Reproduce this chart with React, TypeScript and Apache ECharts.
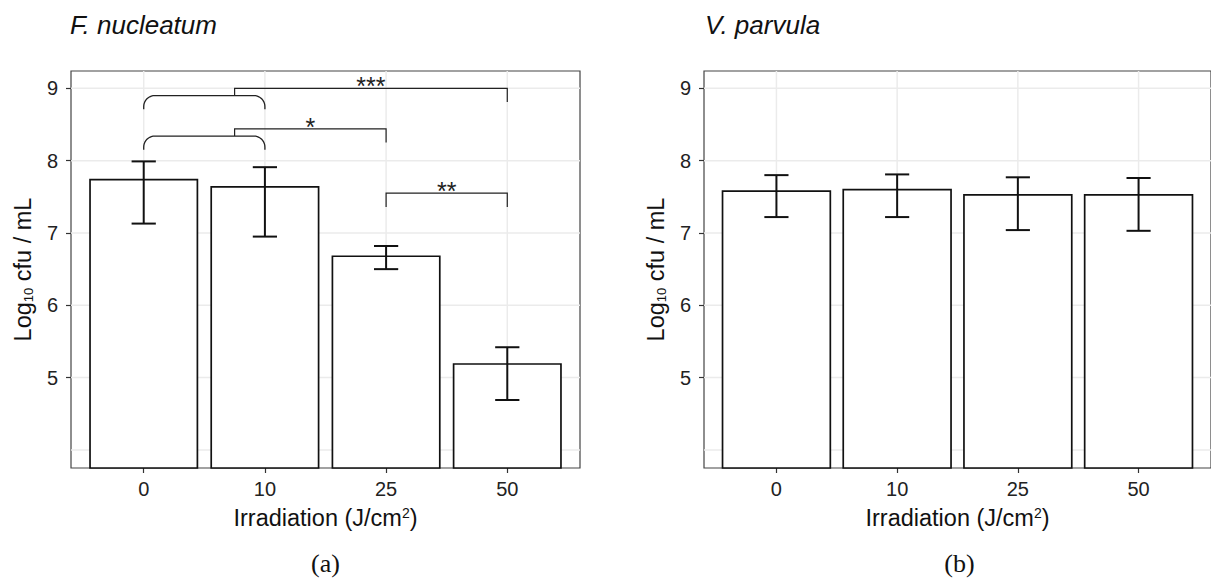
import React, { useEffect, useRef } from "react";
import * as echarts from "echarts";

// ---------- data ----------
const categories = ["0", "10", "25", "50"];
const categoryIndex = [0, 1, 2, 3];

// F. nucleatum (panel a)
const fnMeans = [7.75, 7.65, 6.69, 5.2];
const fnLower = [7.13, 6.95, 6.5, 4.69];
const fnUpper = [7.99, 7.91, 6.82, 5.42];

// V. parvula (panel b)
const vpMeans = [7.59, 7.61, 7.54, 7.54];
const vpLower = [7.22, 7.22, 7.04, 7.03];
const vpUpper = [7.8, 7.81, 7.77, 7.76];

const yTicks = [5, 6, 7, 8, 9];
const yGridValues = [4, 5, 6, 7, 8, 9];
const yMin = 3.75;
const yMax = 9.24;

// significance brackets on panel (a), x in category-index units
const bracketX1 = [0.75, 0.75, 2];
const bracketX2 = [3, 2, 3];
const bracketY = [9.0, 8.44, 7.55];
const bracketLeftEnd = [8.9, 8.34, 7.36];
const bracketRightEnd = [8.81, 8.25, 7.36];
const bracketLabels = ["***", "*", "**"];

// rounded "group" braces joining 0 and 10
const braceX1 = [0, 0];
const braceX2 = [1, 1];
const braceTop = [8.9, 8.34];
const braceBottom = [8.71, 8.15];

// ---------- layout ----------
const W = 1211;
const H = 579;
const FONT = "Liberation Sans, Arial, Helvetica, sans-serif";
const gridTop = 71;
const gridBottom = 111;
const leftGrid = { left: 71, right: 631 };
const rightGrid = { left: 704, right: -4 };
const leftWidth = W - leftGrid.left - leftGrid.right;
const rightWidth = W - rightGrid.left - rightGrid.right;

function gridlineRender(params: any, api: any) {
  const cs = params.coordSys;
  const flag = api.value(2);
  const style = { stroke: "#ebebeb", lineWidth: 1.5, fill: null };
  if (flag === 0) {
    const x = api.coord([api.value(0), yMin])[0];
    return { type: "line", shape: { x1: x, y1: cs.y, x2: x, y2: cs.y + cs.height }, style };
  }
  const y = api.coord([0, api.value(1)])[1];
  return { type: "line", shape: { x1: cs.x, y1: y, x2: cs.x + cs.width, y2: y }, style };
}

function errorBarRender(params: any, api: any) {
  const x = api.value(0);
  const pLo = api.coord([x, api.value(1)]);
  const pHi = api.coord([x, api.value(2)]);
  const half = api.size([0.1, 0])[0];
  const style = { stroke: "#111", lineWidth: 2, fill: null };
  return {
    type: "group",
    children: [
      { type: "line", shape: { x1: pLo[0], y1: pLo[1], x2: pHi[0], y2: pHi[1] }, style },
      { type: "line", shape: { x1: pLo[0] - half, y1: pLo[1], x2: pLo[0] + half, y2: pLo[1] }, style },
      { type: "line", shape: { x1: pHi[0] - half, y1: pHi[1], x2: pHi[0] + half, y2: pHi[1] }, style },
    ],
  };
}

function bracketRender(params: any, api: any) {
  const x1 = api.value(0);
  const x2 = api.value(1);
  const y = api.value(2);
  const pL = api.coord([x1, y]);
  const pR = api.coord([x2, y]);
  const pLe = api.coord([x1, api.value(3)]);
  const pRe = api.coord([x2, api.value(4)]);
  const style = { stroke: "#222", lineWidth: 1.2, fill: null };
  return {
    type: "group",
    children: [
      {
        type: "polyline",
        shape: { points: [[pLe[0], pLe[1]], [pL[0], pL[1]], [pR[0], pR[1]], [pRe[0], pRe[1]]] },
        style,
      },
      {
        type: "text",
        x: (pL[0] + pR[0]) / 2,
        y: pL[1] - 2,
        style: {
          text: bracketLabels[params.dataIndex],
          font: `25px ${FONT}`,
          fill: "#222",
          align: "center",
          verticalAlign: "middle",
        },
      },
    ],
  };
}

function braceRender(params: any, api: any) {
  const xL = api.coord([api.value(0), 0])[0];
  const xR = api.coord([api.value(1), 0])[0];
  const yT = api.coord([0, api.value(2)])[1];
  const yB = api.coord([0, api.value(3)])[1];
  const r = Math.min(11, yB - yT);
  const pts: number[][] = [[xL, yB]];
  const steps = 10;
  for (let i = 0; i <= steps; i++) {
    const t = Math.PI + (Math.PI / 2) * (i / steps);
    pts.push([xL + r + r * Math.cos(t), yT + r + r * Math.sin(t)]);
  }
  for (let i = 0; i <= steps; i++) {
    const t = 1.5 * Math.PI + (Math.PI / 2) * (i / steps);
    pts.push([xR - r + r * Math.cos(t), yT + r + r * Math.sin(t)]);
  }
  pts.push([xR, yB]);
  return {
    type: "polyline",
    shape: { points: pts },
    style: { stroke: "#222", lineWidth: 1.3, fill: null },
  };
}

function makeXAxis(gridIndex: number) {
  return {
    type: "value",
    gridIndex,
    min: -0.6,
    max: 3.6,
    name: "Irradiation (J/cm{p|2})",
    nameLocation: "middle",
    nameGap: 38,
    nameTextStyle: {
      fontSize: 23.5,
      color: "#111",
      fontFamily: FONT,
      rich: { p: { fontSize: 14, verticalAlign: "top", color: "#111", fontFamily: FONT } },
    },
    axisLine: { show: false, onZero: false },
    splitLine: { show: false },
    axisTick: {
      show: true,
      length: 5,
      customValues: categoryIndex,
      lineStyle: { color: "#333", width: 1.2 },
    },
    axisLabel: {
      customValues: categoryIndex,
      formatter: (v: number) => categories[Math.round(v)] ?? "",
      fontSize: 20,
      color: "#222",
      fontFamily: FONT,
      margin: 11,
    },
  };
}

function makeYAxis(gridIndex: number) {
  return {
    type: "value",
    gridIndex,
    min: yMin,
    max: yMax,
    name: "Log{s|10} cfu / mL",
    nameLocation: "middle",
    nameRotate: 90,
    nameGap: 36,
    nameTextStyle: {
      fontSize: 23.5,
      color: "#111",
      fontFamily: FONT,
      rich: { s: { fontSize: 13, verticalAlign: "bottom", color: "#111", fontFamily: FONT } },
    },
    axisLine: { show: false, onZero: false },
    splitLine: { show: false },
    axisTick: {
      show: true,
      length: 5,
      customValues: yTicks,
      lineStyle: { color: "#333", width: 1.2 },
    },
    axisLabel: {
      customValues: yTicks,
      fontSize: 20,
      color: "#222",
      fontFamily: FONT,
      margin: 13,
    },
  };
}

export default function App() {
  const ref = useRef<HTMLDivElement>(null);

  useEffect(() => {
    if (!ref.current) return;
    const chart = echarts.init(ref.current, undefined, { renderer: "svg" });

    const gridData = [
      ...categoryIndex.map((v) => [v, yMin, 0]),
      ...yGridValues.map((v) => [0, v, 1]),
    ];
    const fnBars = categoryIndex.map((i) => [i, fnMeans[i]]);
    const vpBars = categoryIndex.map((i) => [i, vpMeans[i]]);
    const fnErr = categoryIndex.map((i) => [i, fnLower[i], fnUpper[i]]);
    const vpErr = categoryIndex.map((i) => [i, vpLower[i], vpUpper[i]]);
    const bracketData = bracketX1.map((_, i) => [
      bracketX1[i], bracketX2[i], bracketY[i], bracketLeftEnd[i], bracketRightEnd[i],
    ]);
    const braceData = braceX1.map((_, i) => [braceX1[i], braceX2[i], braceTop[i], braceBottom[i]]);

    const barStyle = { color: "#ffffff", borderColor: "#111", borderWidth: 1.7 };
    const titleStyle = { fontStyle: "italic", fontWeight: "normal", fontSize: 26, color: "#111", fontFamily: FONT };
    const serifFont = '26px "Liberation Serif", "Times New Roman", serif';

    const option: any = {
      animation: false,
      backgroundColor: "#ffffff",
      textStyle: { fontFamily: FONT },
      title: [
        { text: "F. nucleatum", left: 70, top: 12, padding: 0, textStyle: titleStyle },
        { text: "V. parvula", left: 705, top: 12, padding: 0, textStyle: titleStyle },
      ],
      grid: [
        {
          left: leftGrid.left, right: leftGrid.right, top: gridTop, bottom: gridBottom,
          show: true, borderColor: "#444", borderWidth: 1.2, backgroundColor: "transparent",
        },
        {
          left: rightGrid.left, right: rightGrid.right, top: gridTop, bottom: gridBottom,
          show: true, borderColor: "#444", borderWidth: 1.2, backgroundColor: "transparent",
        },
      ],
      xAxis: [makeXAxis(0), makeXAxis(1)],
      yAxis: [makeYAxis(0), makeYAxis(1)],
      graphic: [
        {
          type: "text",
          x: (leftGrid.left + (W - leftGrid.right)) / 2,
          y: 563,
          style: { text: "(a)", font: serifFont, fill: "#111", align: "center", verticalAlign: "middle" },
        },
        {
          type: "text",
          x: (rightGrid.left + (W - rightGrid.right)) / 2,
          y: 563,
          style: { text: "(b)", font: serifFont, fill: "#111", align: "center", verticalAlign: "middle" },
        },
      ],
      series: [
        {
          type: "custom", xAxisIndex: 0, yAxisIndex: 0, z: 0, silent: true, clip: false,
          renderItem: gridlineRender, data: gridData,
        },
        {
          type: "bar", xAxisIndex: 0, yAxisIndex: 0, z: 2, data: fnBars,
          barWidth: (0.9 * leftWidth) / 4.2, itemStyle: barStyle, clip: true,
        },
        {
          type: "custom", xAxisIndex: 0, yAxisIndex: 0, z: 3, clip: false,
          renderItem: errorBarRender, data: fnErr,
        },
        {
          type: "custom", xAxisIndex: 0, yAxisIndex: 0, z: 3, clip: false,
          renderItem: bracketRender, data: bracketData,
        },
        {
          type: "custom", xAxisIndex: 0, yAxisIndex: 0, z: 3, clip: false,
          renderItem: braceRender, data: braceData,
        },
        {
          type: "custom", xAxisIndex: 1, yAxisIndex: 1, z: 0, silent: true, clip: false,
          renderItem: gridlineRender, data: gridData,
        },
        {
          type: "bar", xAxisIndex: 1, yAxisIndex: 1, z: 2, data: vpBars,
          barWidth: (0.9 * rightWidth) / 4.2, itemStyle: barStyle, clip: true,
        },
        {
          type: "custom", xAxisIndex: 1, yAxisIndex: 1, z: 3, clip: false,
          renderItem: errorBarRender, data: vpErr,
        },
      ],
    };

    chart.setOption(option);
    return () => chart.dispose();
  }, []);

  return (
    <div
      ref={ref}
      style={{ position: "fixed", left: 0, top: 0, width: W, height: H, background: "#fff" }}
    />
  );
}
